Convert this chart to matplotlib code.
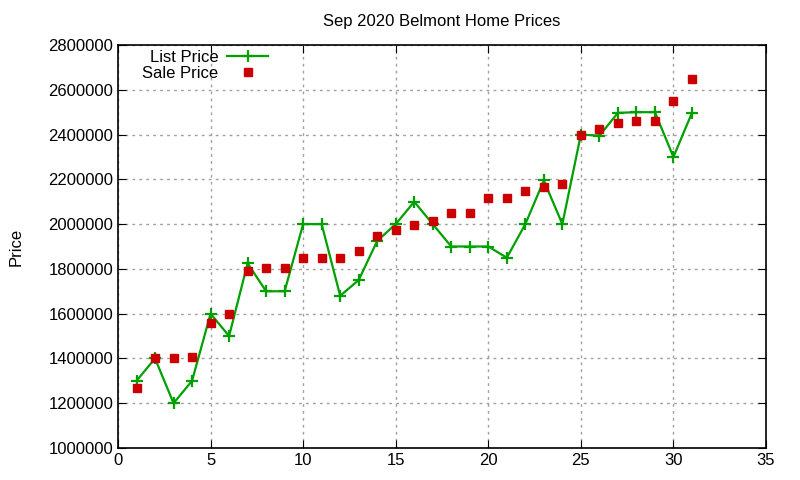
import matplotlib
matplotlib.use("Agg")
import matplotlib.pyplot as plt

plt.rcParams['font.family'] = ['Liberation Sans', 'DejaVu Sans']

days = list(range(1, 32))
list_price = [1300000, 1400000, 1200000, 1300000, 1600000, 1500000, 1825000,
              1700000, 1700000, 2000000, 2000000, 1680000, 1750000, 1925000,
              2000000, 2100000, 2000000, 1900000, 1900000, 1900000, 1850000,
              2000000, 2195000, 2000000, 2400000, 2395000, 2497000, 2500000,
              2500000, 2300000, 2497000]
sale_price = [1270000, 1400000, 1400000, 1405000, 1560000, 1600000, 1790000,
              1805000, 1805000, 1850000, 1850000, 1850000, 1880000, 1945000,
              1975000, 1998000, 2015000, 2050000, 2050000, 2115000, 2118000,
              2150000, 2165000, 2180000, 2400000, 2425000, 2450000, 2460000,
              2460000, 2550000, 2650000]

fig = plt.figure(figsize=(8, 4.8), dpi=100)
ax = fig.add_axes([0.1475, 0.0667, 0.81, 0.8395])

ax.plot(days, list_price, color='#00a000', linewidth=1.6, marker='+',
        markersize=9, markeredgewidth=1.6, label='List Price')
ax.plot(days, sale_price, linestyle='none', color='#cc0000', marker='s',
        markersize=6.3, label='Sale Price')

ax.set_xlim(0, 35)
ax.set_ylim(1000000, 2800000)
ax.set_xticks(range(0, 36, 5))
ax.set_yticks(range(1000000, 2800001, 200000))
ax.ticklabel_format(style='plain', axis='y')
ax.tick_params(direction='in', top=True, right=True, labelsize=12, length=6)
ax.grid(True, color='#a0a0a0', linestyle=(0, (2, 3)), linewidth=1)
for s in ax.spines.values():
    s.set_linewidth(1.2)

ax.set_title('Sep 2020 Belmont Home Prices', fontsize=12, pad=14)
ax.set_ylabel('Price', fontsize=12, labelpad=18)

ax.legend(loc='upper left', bbox_to_anchor=(0.022, 1.013), frameon=False,
          markerfirst=False, fontsize=12, handlelength=2.5, handletextpad=0.5,
          labelspacing=0.05, borderaxespad=0.2)

fig.savefig('out.png')
